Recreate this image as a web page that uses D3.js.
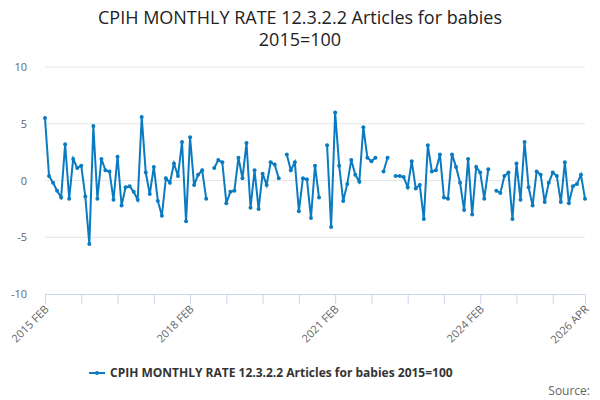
<!DOCTYPE html>
<html><head><meta charset="utf-8">
<script src="https://cdn.jsdelivr.net/npm/d3@7"></script>
<style>body{margin:0;background:#fff;font-family:"Open Sans","DejaVu Sans",sans-serif}</style>
</head><body><svg id="c" width="600" height="400"></svg>
<script>
const title1 = "CPIH MONTHLY RATE 12.3.2.2 Articles for babies";
const title2 = "2015=100";
const startYear = 2015, startMonth = 1; // Feb (0-based)
const values = [5.5,0.4,-0.2,-0.9,-1.5,3.2,-1.6,1.9,1.1,1.3,-1.4,-5.6,4.8,-1.6,1.9,0.9,0.8,-1.7,2.1,-2.2,
-0.6,-0.5,-1.0,-1.7,5.6,0.7,-1.2,1.2,-1.8,-3.1,0.2,-0.2,1.5,0.4,3.4,-3.6,3.8,-0.4,0.5,0.9,
-1.6,null,1.1,1.8,1.6,-2.0,-1.0,-0.9,2.0,0.2,3.3,-2.4,0.9,-2.5,0.6,-0.4,1.6,1.4,0.2,null,
2.3,0.9,1.6,-2.7,0.2,0.1,-3.3,1.3,-1.5,null,3.1,-4.1,6.0,1.3,-1.8,-0.3,1.8,0.5,-0.1,4.7,
2.0,1.7,2.0,null,0.8,2.0,null,0.4,0.4,0.3,-0.6,1.7,-0.7,-0.4,-3.4,3.1,0.8,0.9,2.3,-1.5,
-1.6,2.3,1.2,-0.2,-2.6,1.9,-3.0,1.2,0.7,-1.6,1.0,null,-0.9,-1.1,0.4,0.7,-3.4,1.5,-1.7,3.4,
-0.6,-2.2,0.8,0.5,-1.9,-0.2,0.7,0.4,-1.9,1.6,-2.0,-0.5,-0.3,0.5,-1.6];
const yTicks = [-10,-5,0,5,10];
const monthNames = ["JAN","FEB","MAR","APR","MAY","JUN","JUL","AUG","SEP","OCT","NOV","DEC"];
const labelIdx = [0,36,72,108,134];
const legendText = "CPIH MONTHLY RATE 12.3.2.2 Articles for babies 2015=100";
const color = "#0a7bc1";

const svg = d3.select("#c");
const lbl = i => { const m = startMonth + i; return (startYear + Math.floor(m/12)) + " " + monthNames[m%12]; };
const x = d3.scaleLinear().domain([0, values.length-1]).range([45, 585]);
const y = d3.scaleLinear().domain([-10,10]).range([294, 67]);

svg.append("text").attr("x",300).attr("y",24).attr("text-anchor","middle").attr("font-size",18).attr("fill","#222").text(title1);
svg.append("text").attr("x",300).attr("y",46).attr("text-anchor","middle").attr("font-size",18).attr("fill","#222").text(title2);

svg.append("g").selectAll("line").data(yTicks.filter(d=>d!==-10)).join("line")
  .attr("x1",45).attr("x2",585).attr("y1",d=>y(d)).attr("y2",d=>y(d)).attr("stroke","#e6e6e6");
svg.append("g").selectAll("text").data(yTicks).join("text")
  .attr("x",27).attr("y",d=>y(d)+4).attr("text-anchor","end").attr("font-size",11).attr("fill","#666").text(d=>d);

const ticks = d3.range(0, values.length, 9).concat([values.length-1]);
const xa = d3.axisBottom(x).tickValues(ticks).tickSize(10).tickFormat(d => labelIdx.includes(d) ? lbl(d) : "");
const g = svg.append("g").attr("transform",`translate(0,${y(-10)})`).call(xa);
g.select(".domain").attr("stroke","#ccd6eb");
g.selectAll(".tick line").attr("stroke","#ccd6eb");
g.selectAll(".tick text").attr("font-size",11).attr("fill","#666").attr("font-family","Open Sans, DejaVu Sans, sans-serif")
  .attr("text-anchor","end").attr("y",0).attr("dy",0).attr("transform","translate(4,16) rotate(-45)");

const line = d3.line().defined(d=>d!=null).x((d,i)=>x(i)).y(d=>y(d));
svg.append("path").datum(values).attr("d",line).attr("fill","none").attr("stroke",color).attr("stroke-width",2);
svg.append("g").selectAll("circle").data(values.map((v,i)=>({v,i})).filter(d=>d.v!=null)).join("circle")
  .attr("cx",d=>x(d.i)).attr("cy",d=>y(d.v)).attr("r",2).attr("fill",color);

const lg = svg.append("g").attr("transform","translate(89,373)");
lg.append("line").attr("x1",0).attr("x2",16).attr("y1",0).attr("y2",0).attr("stroke",color).attr("stroke-width",2);
lg.append("circle").attr("cx",8).attr("cy",0).attr("r",2).attr("fill",color);
lg.append("text").attr("x",21).attr("y",4).attr("font-size",12).attr("font-weight","bold").attr("fill","#333").text(legendText);
svg.append("text").attr("x",590).attr("y",395).attr("text-anchor","end").attr("font-size",12).attr("fill","#666").text("Source:");
</script></body></html>
